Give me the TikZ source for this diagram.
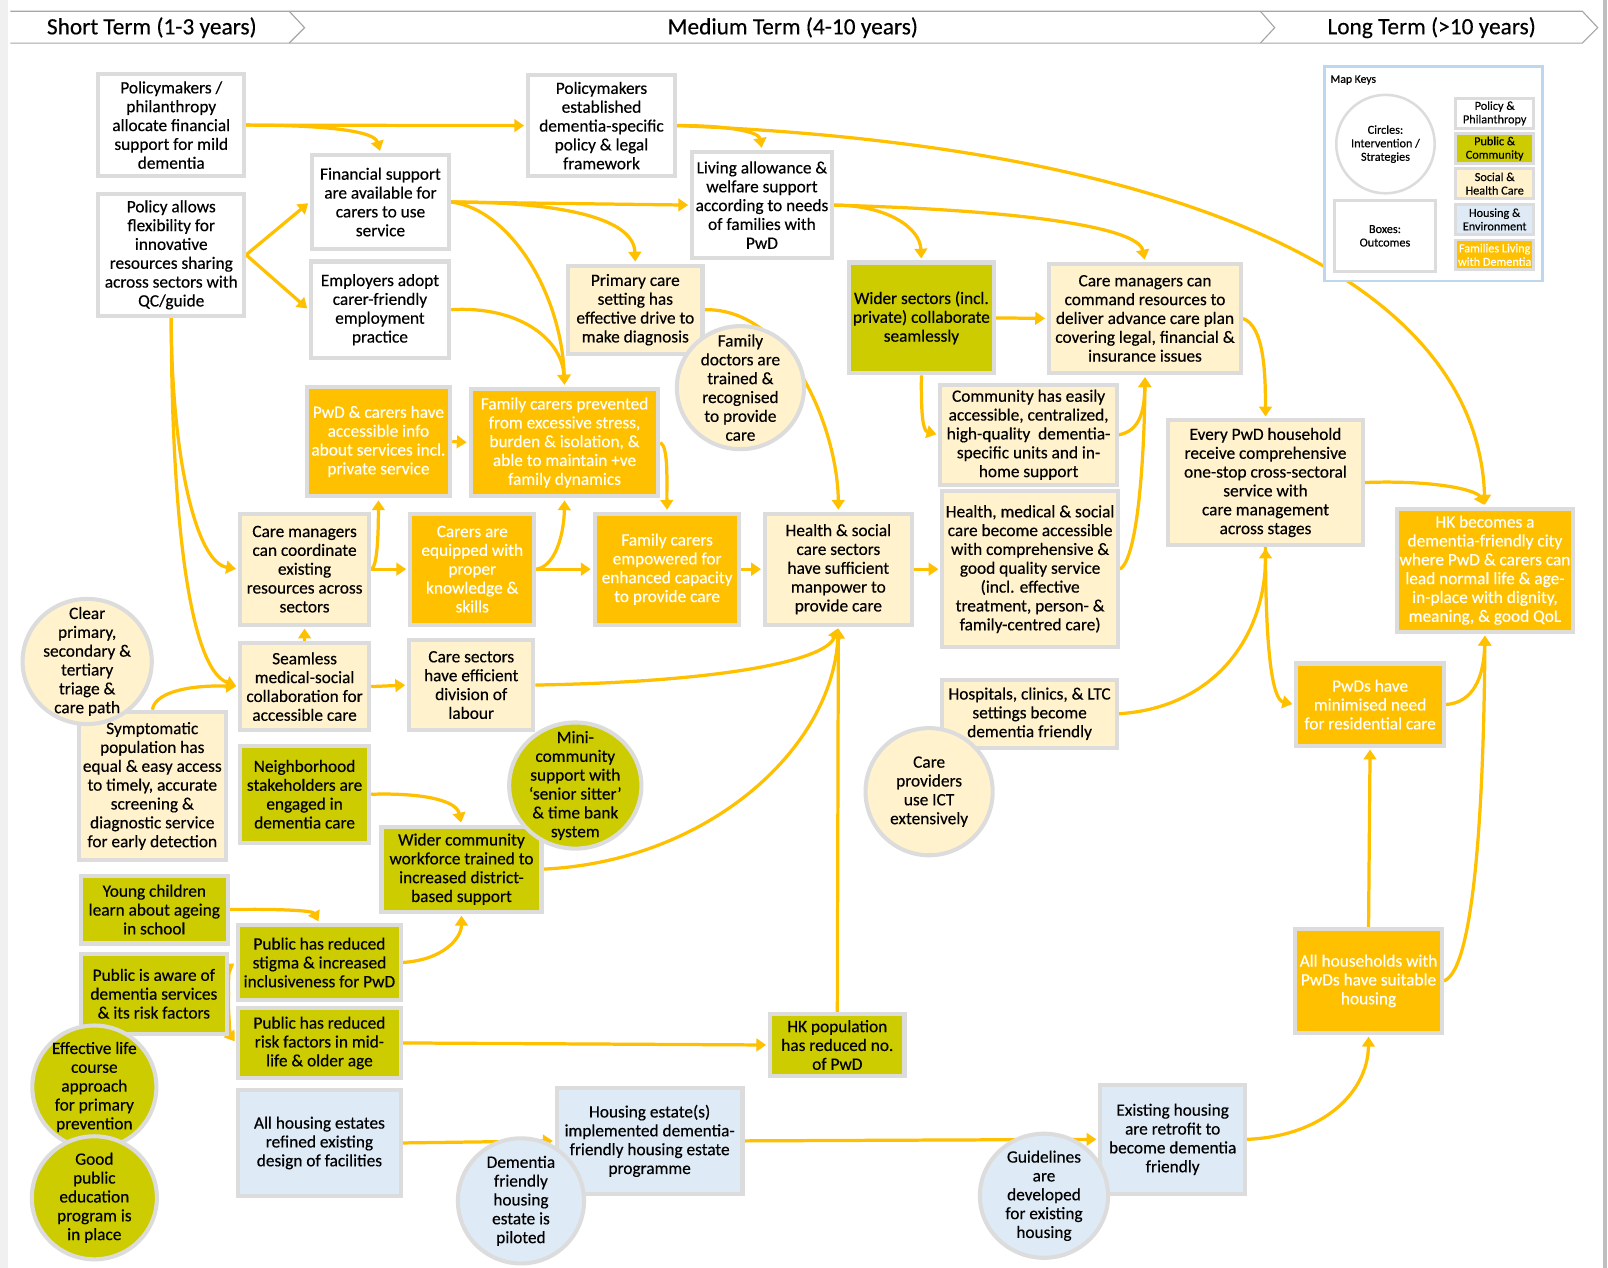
\documentclass[tikz,border=0pt]{standalone}
\usepackage{fontspec}
\setmainfont{Carlito}[FakeBold=0.35]
\usetikzlibrary{arrows.meta,shapes.geometric}
\definecolor{cOlive}{HTML}{CCCC00}
\definecolor{cCream}{HTML}{FFF2CC}
\definecolor{cBlue}{HTML}{DEEBF7}
\definecolor{cOrange}{HTML}{FFC000}
\definecolor{cBorder}{HTML}{DCDCDC}
\definecolor{cLegend}{HTML}{BDD7EE}
\definecolor{cHead}{HTML}{A6A6A6}
\def\px{0.025638cm}
\pgfdeclarelayer{back}
\pgfdeclarelayer{bg}
\pgfsetlayers{back,bg,main}
\tikzset{
  bx/.style 2 args={rectangle, draw=cBorder, line width=2.9pt, align=center, inner sep=0pt,
     minimum width={(#1-4)*\px}, minimum height={(#2-4)*\px},
     font=\fontsize{12.3}{13.4}\selectfont},
  cc/.style 2 args={ellipse, draw=cBorder, line width=2.9pt, inner sep=0pt,
     minimum width={(#1-4)*\px}, minimum height={(#2-4)*\px}},
  ctx/.style={align=center, inner sep=0pt, font=\fontsize{12.3}{13.4}\selectfont},
  pol/.style={fill=white},
  pub/.style={fill=cOlive},
  soc/.style={fill=cCream},
  hou/.style={fill=cBlue},
  fam/.style={fill=cOrange, text=white},
  conn/.style={draw=cOrange, line width=2.3pt, -{Triangle[length=7pt,width=9pt]}, shorten >=1.4pt},
  hd/.style={draw=cHead, line width=0.8pt},
  htxt/.style={inner sep=0pt, font=\fontsize{16.6}{18}\selectfont},
  lgt/.style={align=center, inner sep=0pt, font=\fontsize{8.7}{9.6}\selectfont},
  kb/.style={rectangle, draw=cBorder, line width=2pt, lgt, minimum width={76*\px}, minimum height={29*\px}},
}
\begin{document}
\begin{tikzpicture}[x=\px, y=-\px]
\useasboundingbox (0,0) rectangle (1568,1236);
\begin{pgfonlayer}{back}
\fill[white] (0,0) rectangle (1568,1236);
\fill[black!6] (0,0) rectangle (8,1236);
\fill[black!25] (1563,0) rectangle (1567,1236);
\end{pgfonlayer}

% header
\draw[hd] (10,11) -- (1543,11) -- (1558,27) -- (1543,42) -- (10,42);
\draw[hd] (282,11) -- (297,27) -- (282,42);
\draw[hd] (1229,11) -- (1243,27) -- (1229,42);
\node[htxt] (hS) at (148,27) {Short Term (1-3 years)};
\node[htxt] (hM) at (773,27) {Medium Term (4-10 years)};
\node[htxt] (hL) at (1396,27) {Long Term (>10 years)};

% boxes
\node[bx={146}{104},pol] (P1) at (167,122) {Policymakers /\\philanthropy\\allocate financial\\support for mild\\dementia};
\node[bx={146}{123},pol] (P2) at (167,248.5) {Policy allows\\flexibility for\\innovative\\resources sharing\\across sectors with\\QC/guide};
\node[bx={138}{96},pol] (FS) at (371,197) {Financial support\\are available for\\carers to use\\service};
\node[bx={139}{98},pol] (EMP) at (370.5,302) {Employers adopt\\carer-friendly\\employment\\practice};
\node[bx={147}{103},pol] (PM) at (586.5,122.5) {Policymakers\\established\\dementia-specific\\policy \& legal\\framework};
\node[bx={140}{108},pol] (LA) at (743,200) {Living allowance \&\\welfare support\\according to needs\\of families with\\PwD};
\node[bx={135}{90},soc] (PC) at (619.5,302) {Primary care\\setting has\\effective drive to\\make diagnosis};
\node[bx={145}{112},pub] (WS) at (898.5,310) {Wider sectors (incl.\\private) collaborate\\seamlessly};
\node[bx={191}{111},soc] (CM) at (1116.5,310.5) {Care managers can\\command resources to\\deliver advance care plan\\covering legal, financial \&\\insurance issues};
\node[bx={176}{102},soc] (CH) at (1003,424) {Community has easily\\accessible, centralized,\\high-quality\ \ dementia-\\specific units and in-\\home support};
\node[bx={175}{156},soc] (HM) at (1004.5,555) {Health, medical \& social\\care become accessible\\with comprehensive \&\\good quality service\\(incl. effective\\treatment, person- \&\\family-centred care)};
\node[bx={194}{125},soc] (EV) at (1234,470.5) {Every PwD household\\receive comprehensive\\one-stop cross-sectoral\\service with\\care management\\across stages};
\node[bx={176}{124},fam] (HK) at (1448,556) {HK becomes a\\dementia-friendly city\\where PwD \& carers can\\lead normal life \& age-\\in-place with dignity,\\meaning, \& good QoL};
\node[bx={148}{84},fam] (PWDS) at (1336,687) {PwDs have\\minimised need\\for residential care};
\node[bx={147}{105},fam] (AH) at (1334.5,956.5) {All households with\\PwDs have suitable\\housing};
\node[bx={144}{111},fam] (PWDC) at (369,430.5) {PwD \& carers have\\accessible info\\about services incl.\\private service};
\node[bx={187}{109},fam] (FCP) at (550.5,431.5) {Family carers prevented\\from excessive stress,\\burden \& isolation, \&\\able to maintain +ve\\family dynamics};
\node[bx={130}{112},soc] (CMC) at (297,555) {Care managers\\can coordinate\\existing\\resources across\\sectors};
\node[bx={125}{112},fam] (CE) at (460.5,555) {Carers are\\equipped with\\proper\\knowledge \&\\skills};
\node[bx={145}{112},fam] (FCE) at (650.5,555) {Family carers\\empowered for\\enhanced capacity\\to provide care};
\node[bx={147}{112},soc] (HS) at (817.5,555) {Health \& social\\care sectors\\have sufficient\\manpower to\\provide care};
\node[bx={130}{89},soc] (SM) at (297,669.5) {Seamless\\medical-social\\collaboration for\\accessible care};
\node[bx={125}{92},soc] (CS) at (459.5,668) {Care sectors\\have efficient\\division of\\labour};
\node[bx={147}{149},soc] (SP) at (148.5,766.5) {Symptomatic\\population has\\equal \& easy access\\to timely, accurate\\screening \&\\diagnostic service\\for early detection};
\node[bx={130}{99},pub] (NS) at (297,774.5) {Neighborhood\\stakeholders are\\engaged in\\dementia care};
\node[bx={160}{87},pub] (WC) at (450,847.5) {Wider community\\workforce trained to\\increased district-\\based support};
\node[bx={147}{70},pub] (YC) at (150.5,887) {Young children\\learn about ageing\\in school};
\node[bx={146}{82},pub] (PA) at (150,969) {Public is aware of\\dementia services\\\& its risk factors};
\node[bx={163}{77},pub] (PRS) at (311.5,938.5) {Public has reduced\\stigma \& increased\\inclusiveness for PwD};
\node[bx={163}{72},pub] (PRR) at (311.5,1017) {Public has reduced\\risk factors in mid-\\life \& older age};
\node[bx={135}{64},pub] (HP) at (816.5,1019) {HK population\\has reduced no.\\of PwD};
\node[bx={163}{107},hou] (AHE) at (311.5,1114.5) {All housing estates\\refined existing\\design of facilities};
\node[bx={185}{107},hou] (HE) at (633.5,1112.5) {Housing estate(s)\\implemented dementia-\\friendly housing estate\\programme};
\node[bx={145}{110},hou] (EH) at (1143.5,1111) {Existing housing\\are retrofit to\\become dementia\\friendly};
\node[bx={174}{70},soc] (HC) at (1004,696) {Hospitals, clinics, \& LTC\\settings become\\dementia friendly};

% circles
\node[cc={128}{124},soc] (FD) at (722,378) {};
\node[ctx] (FDt) at (FD.center) {Family\\doctors are\\trained \&\\recognised\\to provide\\care};
\node[cc={130}{126},soc] (CP) at (85,645) {};
\node[ctx] (CPt) at (CP.center) {Clear\\primary,\\secondary \&\\tertiary\\triage \&\\care path};
\node[cc={133}{127},pub] (MC) at (561,766) {};
\node[ctx] (MCt) at (MC.center) {Mini-\\community\\support with\\‘senior sitter’\\\& time bank\\system};
\node[cc={128}{128},soc] (CI) at (906,772) {};
\node[ctx] (CIt) at (CI.center) {Care\\providers\\use ICT\\extensively};
\node[cc={125}{124},pub] (EL) at (92,1060) {};
\node[ctx] (ELt) at (EL.center) {Effective life\\course\\approach\\for primary\\prevention};
\node[cc={126}{124},pub] (GP) at (92,1168) {};
\node[ctx] (GPt) at (GP.center) {Good\\public\\education\\program is\\in place};
\node[cc={127}{126},hou] (DF) at (508,1171) {};
\node[ctx] (DFt) at (DF.center) {Dementia\\friendly\\housing\\estate is\\piloted};
\node[cc={129}{125},hou] (GD) at (1018,1166) {};
\node[ctx] (GDt) at (GD.center) {Guidelines\\are\\developed\\for existing\\housing};

% legend
\node[draw=cLegend, line width=2pt, fill=white, minimum width={213*\px}, minimum height={209*\px}] (LG) at (1398,169.5) {};
\node[anchor=west, inner sep=0pt, font=\fontsize{8.3}{9}\selectfont] (LGt) at (1297,78) {Map Keys};
\node[circle, draw=cBorder, line width=1.8pt, fill=white, minimum size={96*\px}, inner sep=0pt, lgt] (LGc) at (1351,140.5) {Circles:\\Intervention /\\Strategies};
\node[rectangle, draw=cBorder, line width=2.2pt, fill=white, minimum width={98*\px}, minimum height={69*\px}, lgt] (LGb) at (1350.5,230) {Boxes:\\Outcomes};
\node[kb, fill=white] (K1) at (1457.5,110.5) {Policy \&\\Philanthropy};
\node[kb, fill=cOlive] (K2) at (1457.5,145) {Public \&\\Community};
\node[kb, fill=cCream] (K3) at (1457.5,179) {Social \&\\Health Care};
\node[kb, fill=cBlue] (K4) at (1457.5,214) {Housing \&\\Environment};
\node[kb, fill=cOrange, text=white] (K5) at (1457.5,248.5) {Families Living\\with Dementia};

% connectors
\begin{pgfonlayer}{bg}
\draw[conn] (P1.east) -- (PM.west);
\draw[conn] (P1.east) .. controls (320,122) and (365,128) .. (FS.north);
\draw[conn] (P2.east) -- (FS.west);
\draw[conn] (P2.east) -- (EMP.west);
\draw[conn] (P2.south) .. controls (167,440) and (190,548) .. (CMC.west);
\draw[conn] (P2.south) .. controls (167,470) and (180,650) .. (SM.west);
\draw[conn] (PM.east) .. controls (705,122) and (740,128) .. (LA.north);
\draw[conn] (PM.east) .. controls (1120,140) and (1440,260) .. (HK.north);
\draw[conn] (FS.east) -- (LA.west);
\draw[conn] (FS.east) .. controls (545,197) and (618,212) .. (PC.north);
\draw[conn] (FS.east) .. controls (500,205) and (548,290) .. (FCP.north);
\draw[conn] (EMP.east) .. controls (505,298) and (548,330) .. (FCP.north);
\draw[conn] (LA.east) .. controls (865,200) and (897,222) .. (WS.north);
\draw[conn] (LA.east) .. controls (1000,205) and (1110,222) .. (CM.north);
\draw[conn] (PC.east) .. controls (770,300) and (817,420) .. (HS.north);
\draw[conn] (WS.east) -- (CM.west);
\draw[conn] (WS.south) .. controls (898,405) and (900,420) .. (CH.west);
\draw[conn] (CH.east) .. controls (1112,420) and (1116,400) .. (CM.south);
\draw[conn] (HM.east) .. controls (1110,545) and (1116,440) .. (CM.south);
\draw[conn] (CM.east) .. controls (1232,318) and (1234,360) .. (EV.north);
\draw[conn] (EV.east) .. controls (1400,468) and (1440,478) .. (HK.north);
\draw[conn] (HC.east) .. controls (1185,690) and (1234,620) .. (EV.south);
\draw[conn] (EV.south) .. controls (1234,630) and (1240,682) .. (PWDS.west);
\draw[conn] (PWDS.east) .. controls (1437,685) and (1447,660) .. (HK.south);
\draw[conn] (AH.east) .. controls (1440,945) and (1447,760) .. (HK.south);
\draw[conn] (AH.north) -- (PWDS.south);
\draw[conn] (EH.east) .. controls (1290,1108) and (1334,1065) .. (AH.south);
\draw[conn] (HE.east) -- (EH.west);
\draw[conn] (AHE.east) -- (HE.west);
\draw[conn] (PWDC.east) -- (FCP.west);
\draw[conn] (CMC.east) .. controls (368,553) and (369,520) .. (PWDC.south);
\draw[conn] (CMC.east) -- (CE.west);
\draw[conn] (CE.east) .. controls (542,552) and (550,520) .. (FCP.south);
\draw[conn] (CE.east) -- (FCE.west);
\draw[conn] (FCP.east) .. controls (652,436) and (650,470) .. (FCE.north);
\draw[conn] (FCE.east) -- (HS.west);
\draw[conn] (HS.east) -- (HM.west);
\draw[conn] (SM.north) -- (CMC.south);
\draw[conn] (SM.east) -- (CS.west);
\draw[conn] (CS.east) .. controls (700,665) and (805,645) .. (HS.south);
\draw[conn] (WC.east) .. controls (690,840) and (812,730) .. (HS.south);
\draw[conn] (HP.north) -- (HS.south);
\draw[conn] (NS.east) .. controls (410,773) and (445,780) .. (WC.north);
\draw[conn] (YC.east) .. controls (270,886) and (305,888) .. (PRS.north);
\draw[conn] (PA.east) .. controls (222,955) and (225,942) .. (PRS.west);
\draw[conn] (PA.east) .. controls (222,985) and (225,1010) .. (PRR.west);
\draw[conn] (PRS.east) .. controls (432,936) and (450,915) .. (WC.south);
\draw[conn] (PRR.east) -- (HP.west);
\draw[conn] (SP.north) .. controls (152,672) and (195,668) .. (SM.west);
\end{pgfonlayer}
\end{tikzpicture}
\end{document}
